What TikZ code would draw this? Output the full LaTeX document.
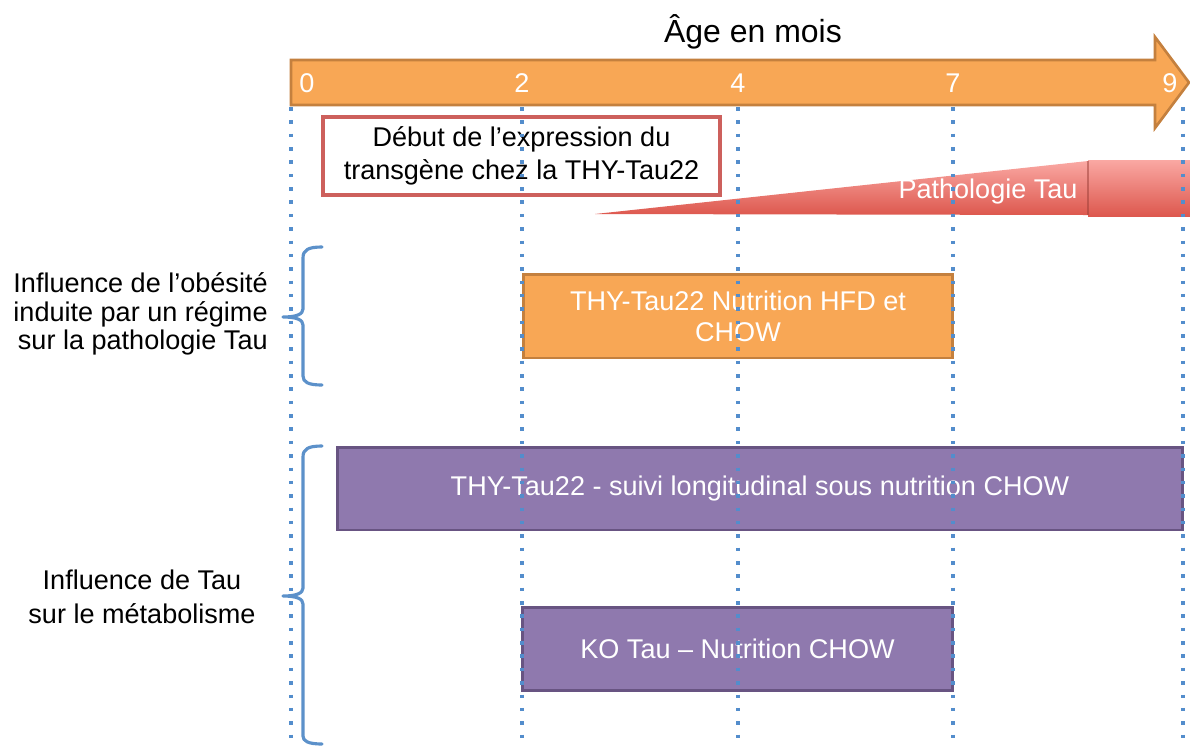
\documentclass[tikz,border=0pt]{standalone}
\usepackage{fontspec}
\setmainfont{Liberation Sans}
\definecolor{agefill}{RGB}{248,167,85}
\definecolor{ageline}{RGB}{196,128,62}
\definecolor{violetfill}{RGB}{143,121,174}
\definecolor{violetline}{RGB}{104,84,130}
\definecolor{debutline}{RGB}{205,96,92}
\definecolor{pathotop}{RGB}{250,168,163}
\definecolor{pathobot}{RGB}{221,88,78}
\definecolor{pointille}{RGB}{83,141,204}
\definecolor{accolade}{RGB}{92,145,202}

\begin{document}
\begin{tikzpicture}[x=0.02cm,y=-0.02cm,
  txt/.style={font=\fontsize{15.4}{18.5}\selectfont},
  mois/.style={txt,text=white,inner sep=0pt},
  pointilles/.style={pointille,line width=2pt,dash pattern=on 2pt off 5.6pt},
  accol/.style={accolade,line width=1.8pt,line cap=round,line join=round},
  periode/.style={txt,text=white,align=center,line width=1.7pt,minimum height=1.66cm,inner sep=0pt}]
\useasboundingbox (0,0) rectangle (1190,745);

% fleche du temps
\node[font=\fontsize{18.2}{20}\selectfont,anchor=base] (titre) at (753,42) {Âge en mois};
\filldraw[fill=agefill, draw=ageline, line width=1.5pt] (291,60) -- (1155,60) -- (1155,37) -- (1189,82.5) -- (1155,128) -- (1155,105) -- (291,105) -- cycle;
\foreach \x/\m in {307/0,522/2,738/4,953/7,1170/9}
  \node[mois] (m\m) at (\x,83) {\m};

% expression du transgene
\node[txt,draw=debutline,line width=2pt,fill=white,align=center,minimum width=7.94cm,minimum height=1.56cm,inner sep=0pt,font=\fontsize{15.4}{18.8}\selectfont] (debut) at (521.5,156) {Début de l’expression du\\transgène chez la THY-Tau22};

% pathologie
\shade[top color=pathotop, bottom color=pathobot] (595,214) -- (1088,161) -- (1088,215) -- cycle;
\shade[top color=pathotop, bottom color=pathobot] (1088,160) rectangle (1190,216);
\draw[pathobot!70!black, line width=0.6pt, opacity=0.5] (1088,161) -- (1088,215);
\node[txt,text=white] (patho) at (988,191) {Pathologie Tau};

% etudes
\node[periode,fill=agefill,draw=ageline,minimum width=8.6cm,minimum height=1.68cm,font=\fontsize{15.4}{17.6}\selectfont] (hfd) at (738,316) {THY-Tau22 Nutrition HFD et\\CHOW};
\node[periode,fill=violetfill,draw=violetline,minimum width=16.92cm] (suivi) at (760,488.5) {THY-Tau22 - suivi longitudinal sous nutrition CHOW};
\node[periode,fill=violetfill,draw=violetline,minimum width=8.62cm] (ko) at (737.5,648.5) {KO Tau – Nutrition CHOW};

% accolades
\draw[accol] (322,247) .. controls (308,247) and (303,250) .. (303,258) -- (303,309) .. controls (303,314) and (297,317) .. (283,317) .. controls (297,317) and (303,320) .. (303,325) -- (303,376) .. controls (303,382) and (308,385) .. (322,385);
\draw[accol] (322,446) .. controls (308,446) and (303,449) .. (303,457) -- (303,588) .. controls (303,593) and (297,596) .. (283,596) .. controls (297,596) and (303,599) .. (303,604) -- (303,736) .. controls (303,741) and (308,744) .. (322,744);

\node[txt,anchor=east,align=right,inner sep=0pt,font=\fontsize{15.4}{16.3}\selectfont] (obesite) at (268,314) {Influence de l’obésité\\induite par un régime\\sur la pathologie Tau};
\node[txt,align=center,inner sep=0pt,font=\fontsize{15.4}{19}\selectfont] (metab) at (142,597) {Influence de Tau\\sur le métabolisme};

% reperes
\foreach \x in {291,522,738,953,1183}
  \draw[pointilles] (\x,107) -- (\x,745);
\end{tikzpicture}
\end{document}
